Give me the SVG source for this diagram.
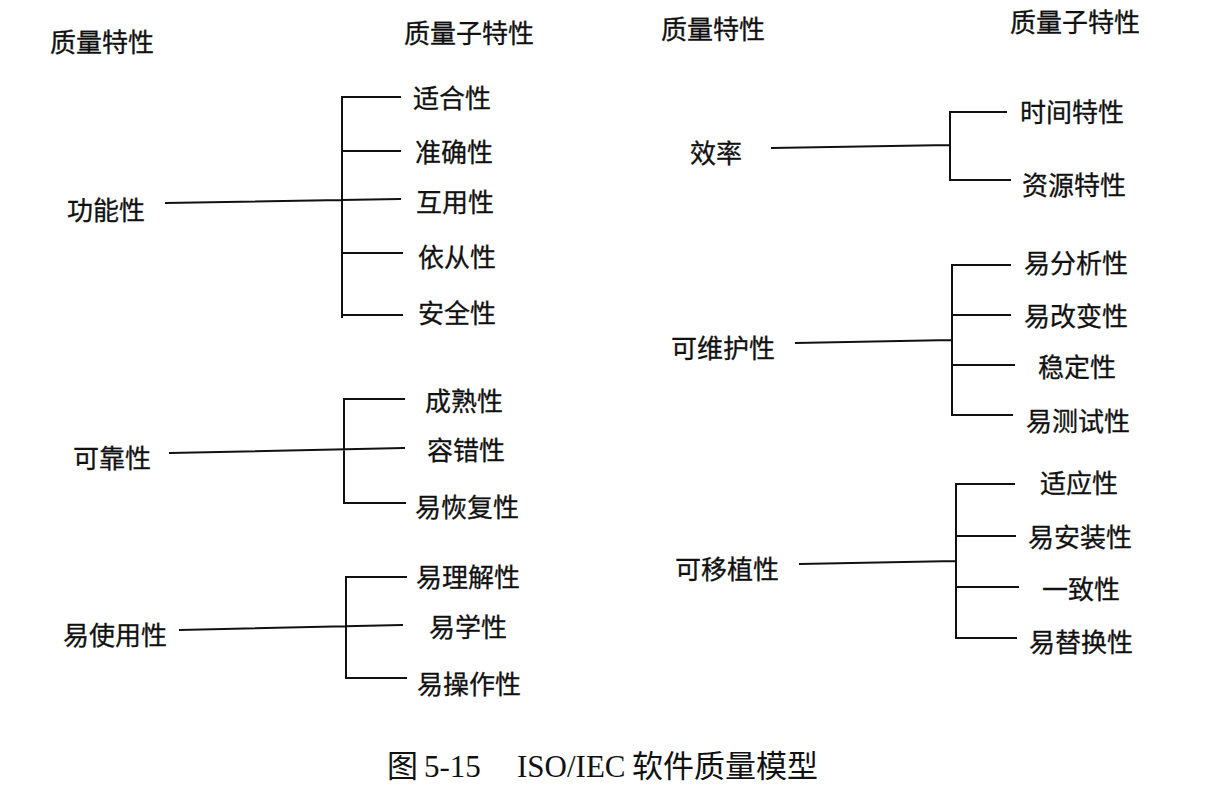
<svg xmlns="http://www.w3.org/2000/svg" width="1232" height="804" viewBox="0 0 1232 804">
<style>
.t{font-family:"Noto Sans CJK SC","Noto Sans",sans-serif;font-size:26px;fill:#111;dominant-baseline:central;stroke:#111;stroke-width:0.3}
.c{stroke:#111;stroke-width:2;fill:none;stroke-linecap:square}
.cap{font-family:"Liberation Serif","Noto Sans CJK SC",serif;font-size:31px;fill:#111}
.capz{font-family:"Noto Sans CJK SC",sans-serif;font-size:31px;fill:#111}
</style>
<rect width="1232" height="804" fill="#fff"/>
<g id="connectors">
  <path class="c" d="M166 203 L400 199 M342 97 L342 317 M342 97 L400 97 M342 151 L400 151 M342 253 L402 253 M342 315 L402 315"/>
  <path class="c" d="M170 453 L404 448 M344 399 L344 503 M344 399 L404 399 M344 503 L405 503"/>
  <path class="c" d="M180 630 L402 625 M346 577 L346 678 M346 577 L406 577 M346 678 L406 678"/>
  <path class="c" d="M772 148 L950 145 M950 112 L950 180 M950 112 L1006 112 M950 180 L1010 180"/>
  <path class="c" d="M796 343 L952 340 M952 265 L952 415 M952 265 L1010 265 M952 315 L1010 315 M952 365 L1014 365 M952 415 L1012 415"/>
  <path class="c" d="M800 564 L956 561 M956 484 L956 638 M956 484 L1014 484 M956 536 L1015 536 M956 587 L1018 587 M956 638 L1016 638"/>
</g>
<g id="header-left-char"><text class="t" x="50" y="40">质量特性</text></g>
<g id="header-left-sub"><text class="t" x="404" y="31">质量子特性</text></g>
<g id="header-right-char"><text class="t" x="661" y="27">质量特性</text></g>
<g id="header-right-sub"><text class="t" x="1010" y="20">质量子特性</text></g>

<g id="functionality"><text class="t" x="67" y="208">功能性</text></g>
<g id="suitability"><text class="t" x="413" y="96">适合性</text></g>
<g id="accuracy"><text class="t" x="415" y="150">准确性</text></g>
<g id="interoperability"><text class="t" x="416" y="200">互用性</text></g>
<g id="compliance"><text class="t" x="418" y="255">依从性</text></g>
<g id="security"><text class="t" x="418" y="311">安全性</text></g>

<g id="reliability"><text class="t" x="73" y="456">可靠性</text></g>
<g id="maturity"><text class="t" x="425" y="399">成熟性</text></g>
<g id="fault-tolerance"><text class="t" x="427" y="448">容错性</text></g>
<g id="recoverability"><text class="t" x="415" y="505">易恢复性</text></g>

<g id="usability"><text class="t" x="63" y="633">易使用性</text></g>
<g id="understandability"><text class="t" x="416" y="575">易理解性</text></g>
<g id="learnability"><text class="t" x="429" y="625">易学性</text></g>
<g id="operability"><text class="t" x="417" y="682">易操作性</text></g>

<g id="efficiency"><text class="t" x="690" y="151">效率</text></g>
<g id="time-behaviour"><text class="t" x="1020" y="110">时间特性</text></g>
<g id="resource-behaviour"><text class="t" x="1022" y="183">资源特性</text></g>

<g id="maintainability"><text class="t" x="671" y="346">可维护性</text></g>
<g id="analysability"><text class="t" x="1024" y="261">易分析性</text></g>
<g id="changeability"><text class="t" x="1024" y="314">易改变性</text></g>
<g id="stability"><text class="t" x="1038" y="365">稳定性</text></g>
<g id="testability"><text class="t" x="1026" y="419">易测试性</text></g>

<g id="portability"><text class="t" x="675" y="567">可移植性</text></g>
<g id="adaptability"><text class="t" x="1040" y="481">适应性</text></g>
<g id="installability"><text class="t" x="1028" y="535">易安装性</text></g>
<g id="conformance"><text class="t" x="1042" y="587">一致性</text></g>
<g id="replaceability"><text class="t" x="1029" y="640">易替换性</text></g>

<g id="caption">
  <text class="capz" x="387" y="777">图</text>
  <text class="cap" x="424" y="777">5-15</text>
  <text class="cap" x="517" y="777">ISO/IEC</text>
  <text class="capz" x="632" y="777">软件质量模型</text>
</g>
</svg>
